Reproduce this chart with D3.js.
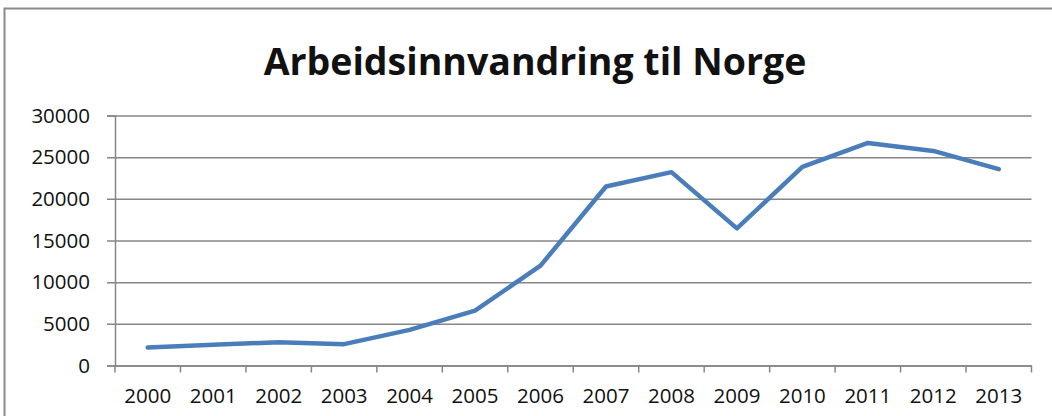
<!DOCTYPE html>
<meta charset="utf-8">
<style>
  body { margin: 0; background: #fff; }
  svg { display: block; }
  text { font-family: "Open Sans", sans-serif; fill: #111; }
</style>
<body>
<script src="https://cdn.jsdelivr.net/npm/d3@7"></script>
<script>
// data
var years  = ["2000","2001","2002","2003","2004","2005","2006","2007","2008","2009","2010","2011","2012","2013"];
var values = [2150, 2480, 2800, 2560, 4280, 6590, 11980, 21480, 23200, 16450, 23830, 26710, 25750, 23560];
var yTicks = [0, 5000, 10000, 15000, 20000, 25000, 30000];
var title  = "Arbeidsinnvandring til Norge";

var W = 1052, H = 416;
var margin = {top: 115.5, left: 115, right: 1052 - 1031.5, bottom: 416 - 365.5};

var svg = d3.select("body").append("svg")
  .attr("width", W)
  .attr("height", H);

// outer chart frame (only top and left edges are visible)
svg.append("path")
  .attr("d", "M4.5," + H + "V8.5H" + W)
  .attr("fill", "none")
  .attr("stroke", "#8a8a8a")
  .attr("stroke-width", 2);

var x = d3.scaleBand()
  .domain(years)
  .range([margin.left, W - margin.right]);

var y = d3.scaleLinear()
  .domain([0, 30000])
  .range([H - margin.bottom, margin.top]);

// gridlines + y axis ticks
var yAxis = svg.append("g")
  .attr("transform", "translate(" + margin.left + ",0)")
  .call(d3.axisLeft(y).tickValues(yTicks).tickSize(8).tickPadding(17).tickFormat(d3.format("d")));
yAxis.select(".domain").attr("stroke", "#868686").attr("stroke-width", 1.5);
yAxis.selectAll(".tick line").attr("stroke", "#868686").attr("stroke-width", 1.5)
  .attr("x2", W - margin.right - margin.left).attr("x1", -8);
yAxis.selectAll(".tick text")
  .style("font-size", "20.5px")
  .style("font-family", "'Open Sans', sans-serif")
  .attr("fill", "#111");

// x axis with tick marks between categories
var xAxis = svg.append("g")
  .attr("transform", "translate(0," + (H - margin.bottom) + ")")
  .call(d3.axisBottom(x).tickSize(0).tickPadding(23));
xAxis.select(".domain").attr("stroke", "#868686").attr("stroke-width", 1.5);
xAxis.selectAll(".tick text")
  .style("font-size", "20.5px")
  .style("font-family", "'Open Sans', sans-serif")
  .attr("fill", "#111");
var bounds = years.map(function(d){ return x(d); }).concat([x.range()[1]]);
xAxis.selectAll(".sep")
  .data(bounds)
  .enter().append("line")
  .attr("x1", function(d){ return d; })
  .attr("x2", function(d){ return d; })
  .attr("y1", 0)
  .attr("y2", 7)
  .attr("stroke", "#868686")
  .attr("stroke-width", 1.5);

// series line
var line = d3.line()
  .x(function(d, i){ return x(years[i]) + x.bandwidth() / 2; })
  .y(function(d){ return y(d); });

svg.append("path")
  .datum(values)
  .attr("d", line)
  .attr("fill", "none")
  .attr("stroke", "#4a7ebb")
  .attr("stroke-width", 4.5)
  .attr("stroke-linejoin", "round")
  .attr("stroke-linecap", "round");

// title
svg.append("text")
  .attr("x", 535)
  .attr("y", 75)
  .attr("text-anchor", "middle")
  .style("font-size", "37.5px")
  .style("font-weight", "bold")
  .text(title);
</script>
</body>
